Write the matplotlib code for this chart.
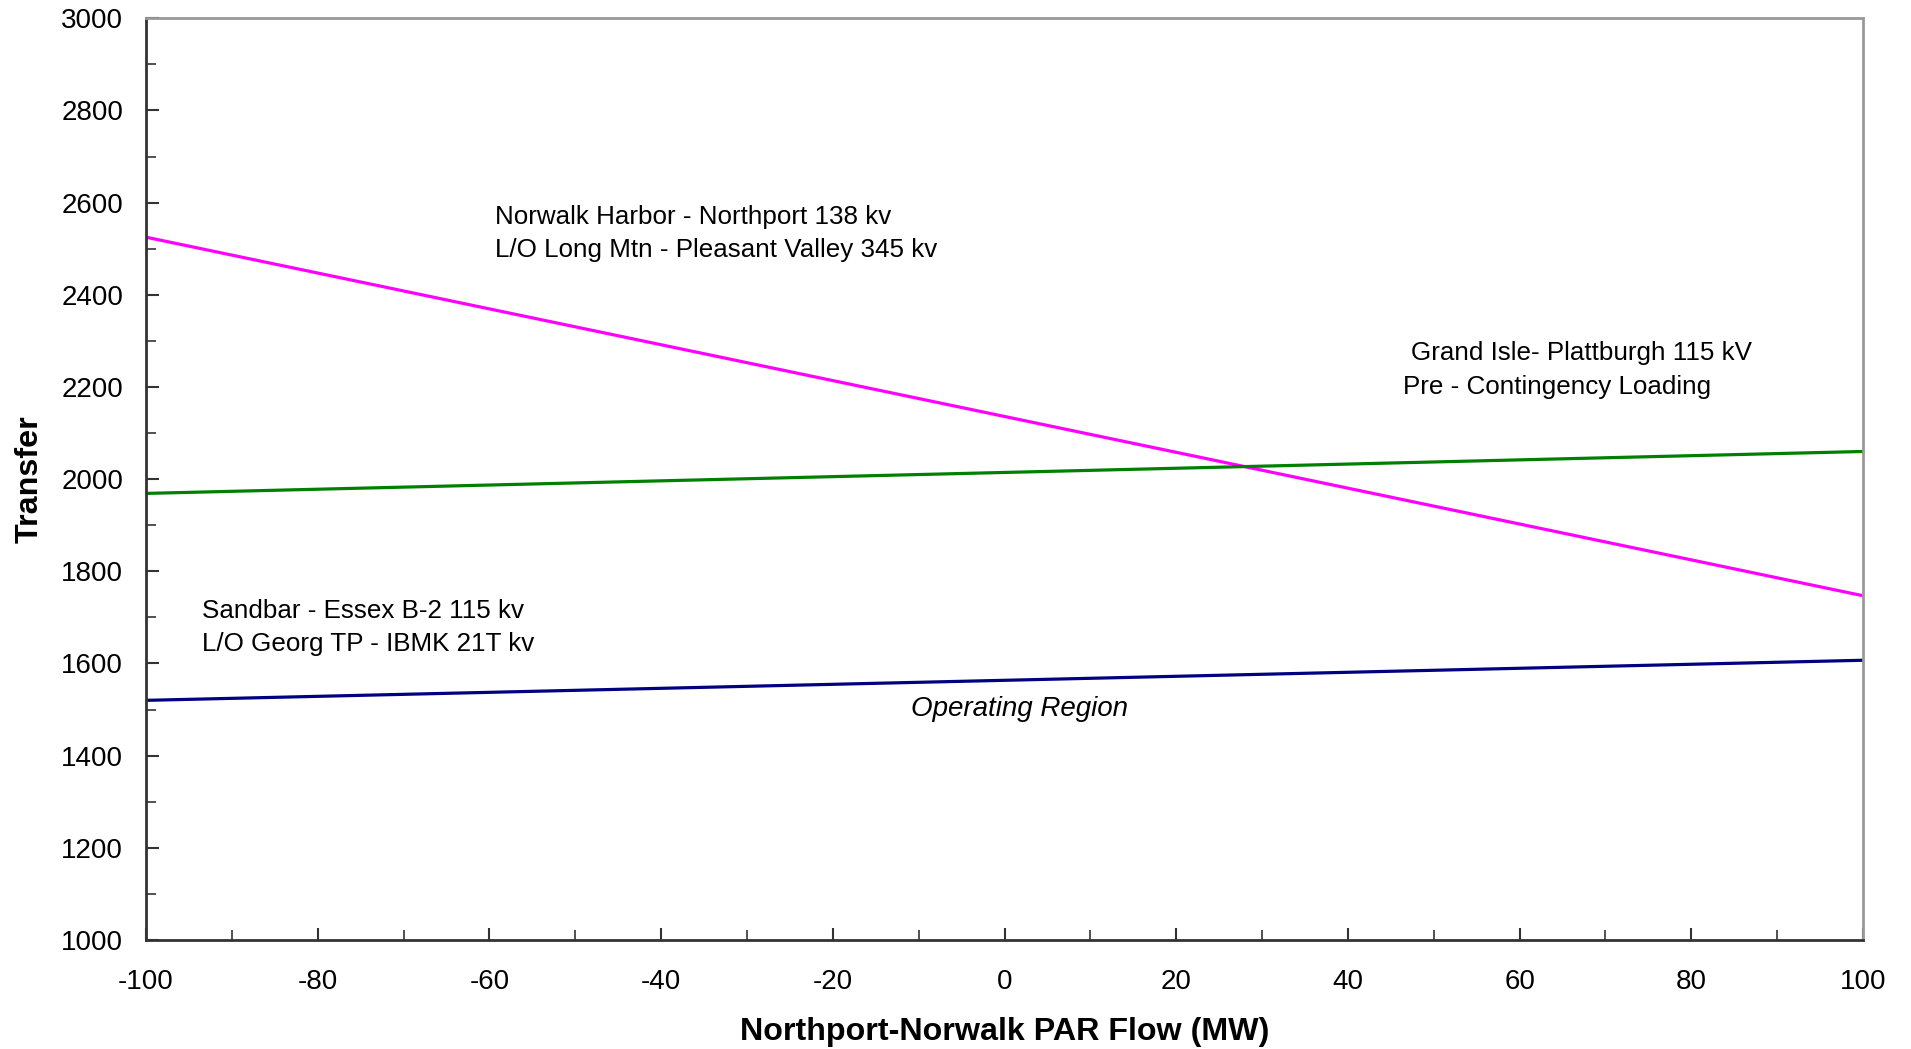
import matplotlib.pyplot as plt
from matplotlib.ticker import MultipleLocator

plt.rcParams['font.family'] = ['Liberation Sans', 'DejaVu Sans']
plt.rcParams['axes.unicode_minus'] = False

# данные
par_flow = [-100, 100]
norwalk = [2525, 1747]
grand_isle = [1969, 2060]
sandbar = [1520, 1607]

fig = plt.figure(figsize=(19.11, 10.49), dpi=100)
ax = fig.add_axes([0.0764, 0.1039, 0.8985, 0.8787])

ax.plot(par_flow, norwalk, color='#FF00FF', lw=2.3)
ax.plot(par_flow, grand_isle, color='#008000', lw=2.3)
ax.plot(par_flow, sandbar, color='#000080', lw=2.3)

ax.set_xlim(-100, 100)
ax.set_ylim(1000, 3000)
ax.xaxis.set_major_locator(MultipleLocator(20))
ax.xaxis.set_minor_locator(MultipleLocator(10))
ax.yaxis.set_major_locator(MultipleLocator(200))
ax.yaxis.set_minor_locator(MultipleLocator(100))
ax.tick_params(which='major', direction='in', length=9, width=1.5, labelsize=20, color='#333333')
ax.tick_params(which='minor', direction='in', length=7, width=1.2, color='#333333')
ax.tick_params(axis='x', pad=21)
ax.tick_params(axis='y', pad=16.5)

for s in ['left', 'bottom']:
    ax.spines[s].set_color('#333333')
    ax.spines[s].set_linewidth(2)
for s in ['top', 'right']:
    ax.spines[s].set_color('#999999')
    ax.spines[s].set_linewidth(2)

ax.set_xlabel('Northport-Norwalk PAR Flow (MW)', fontsize=23.2, fontweight='bold', labelpad=15.5)
ax.set_ylabel('Transfer', fontsize=23.2, fontweight='bold', labelpad=12)

fs = 18.7
ax.text(-59.3, 2568, 'Norwalk Harbor - Northport 138 kv', fontsize=fs, va='center')
ax.text(-59.3, 2497, 'L/O Long Mtn - Pleasant Valley 345 kv', fontsize=fs, va='center')
ax.text(47.3, 2274, 'Grand Isle- Plattburgh 115 kV', fontsize=fs, va='center')
ax.text(46.4, 2200, 'Pre - Contingency Loading', fontsize=fs, va='center')
ax.text(-93.5, 1714, 'Sandbar - Essex B-2 115 kv', fontsize=fs, va='center')
ax.text(-93.5, 1643, 'L/O Georg TP - IBMK 21T kv', fontsize=fs, va='center')
ax.text(1.8, 1502, 'Operating Region', fontsize=20, va='center', ha='center', style='italic')

plt.savefig('out.png', dpi=100)
